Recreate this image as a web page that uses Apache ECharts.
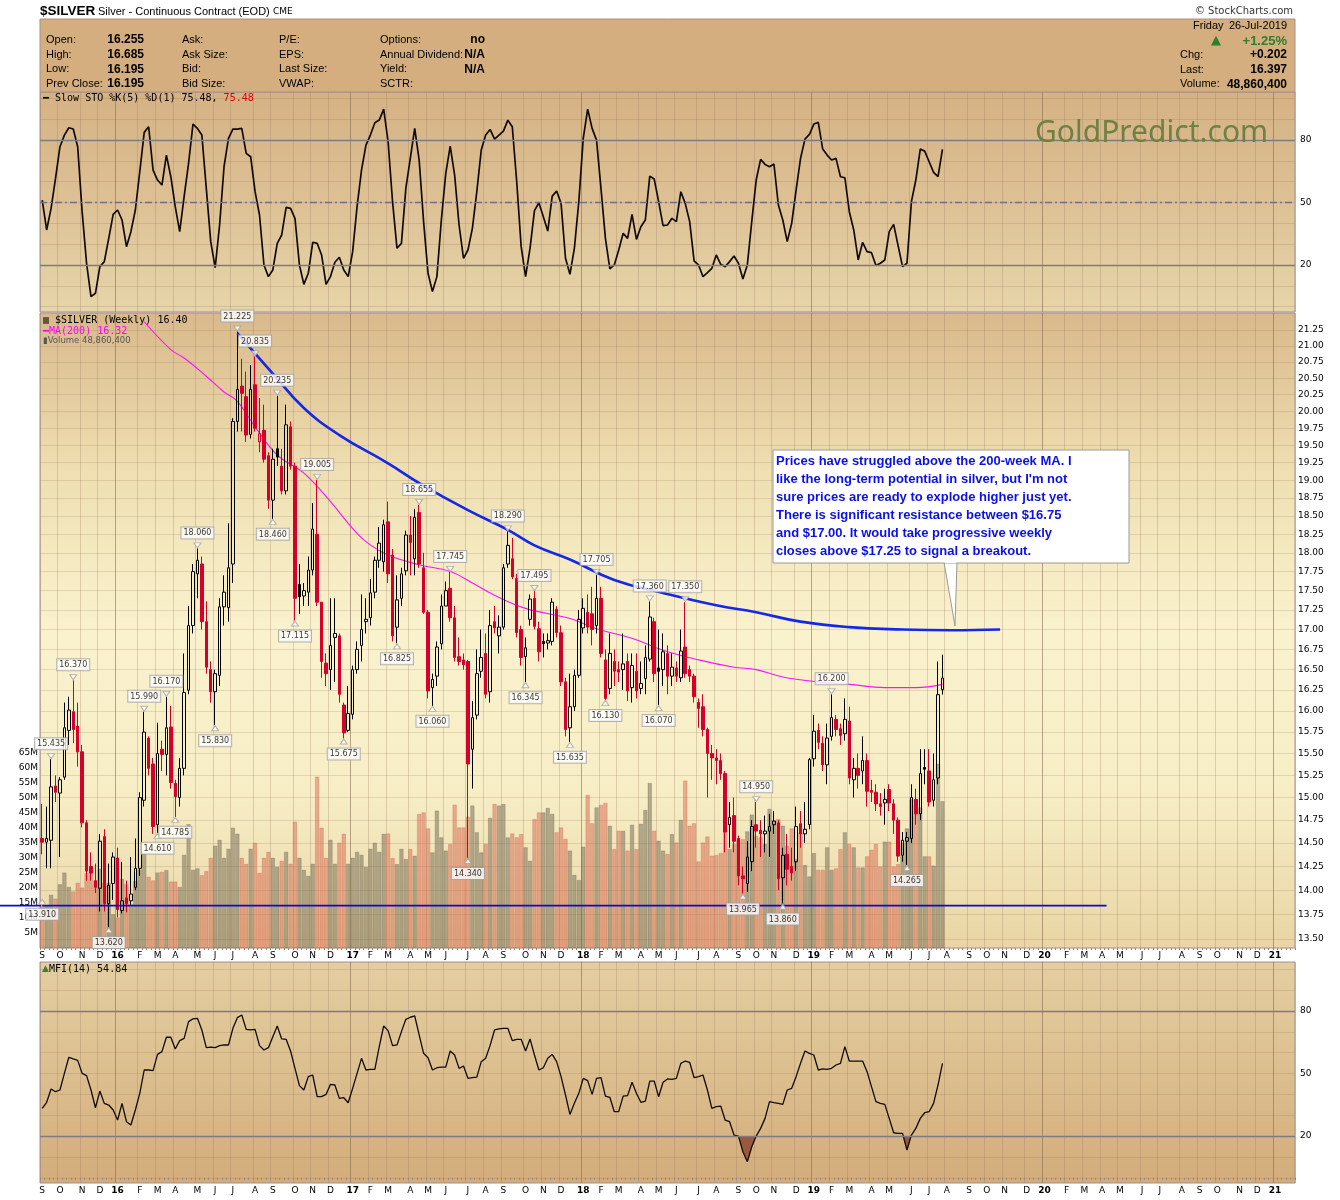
<!DOCTYPE html>
<html>
<head>
<meta charset="utf-8">
<script src="https://cdn.jsdelivr.net/npm/echarts@6/dist/echarts.min.js"></script>
<style>
html,body{margin:0;padding:0;background:#ffffff;}
#chart{width:1340px;height:1200px;}
</style>
</head>
<body>
<div id="chart"></div>
<script>
// ---------------- DATA ----------------
const firstWeek = '2015-09-04';     // first weekly bar (Friday)
const axisWeeks = 283;              // weekly slots on the time axis (to early 2021)
const priorClose = 14.60;           // close of the week before the first bar

const opens = [14.55,14.51,14.53,15.13,15.05,15.23,15.77,15.99,15.82,15.52,
 14.72,14.25,14.10,14.02,14.57,13.86,14.07,14.34,13.79,13.92,
 13.89,14.03,14.23,14.97,15.68,15.38,14.70,15.55,15.49,15.81,
 15.16,15.00,15.33,16.25,17.05,17.72,17.85,17.10,16.50,16.23,
 16.43,17.29,17.28,17.85,19.85,20.38,20.22,19.66,20.40,19.55,
 19.72,19.35,18.72,19.45,19.20,18.85,19.77,19.20,17.58,17.43,
 17.48,17.77,18.25,17.35,16.58,16.50,16.90,16.92,16.07,15.77,
 15.96,16.50,16.80,17.10,17.15,17.48,17.90,17.88,18.42,17.97,
 17.03,17.40,17.76,18.24,17.92,18.55,17.80,17.22,16.28,16.42,
 16.82,17.30,17.53,17.15,16.66,16.62,16.60,15.55,15.95,16.48,
 16.70,16.23,17.10,16.92,17.03,17.85,17.92,17.66,17.00,16.66,
 17.13,17.40,17.01,16.85,16.83,16.85,17.26,16.96,16.35,15.80,
 16.05,16.43,17.02,17.22,17.20,17.05,17.40,16.62,16.27,16.60,
 16.50,16.50,16.60,16.28,16.48,16.27,16.39,16.63,17.10,16.52,
 16.50,16.70,16.42,16.52,16.40,16.78,16.50,16.42,16.10,16.05,
 15.78,15.50,15.45,15.42,15.27,14.70,14.80,14.55,14.15,14.07,
 14.30,14.70,14.64,14.60,14.63,14.70,14.72,14.13,14.38,14.25,
 14.30,14.71,14.60,14.70,15.44,15.77,15.62,15.37,15.70,15.90,
 15.79,15.73,15.88,15.20,15.33,15.30,15.42,15.08,15.06,14.93,
 14.94,15.09,14.93,14.75,14.37,14.52,14.55,14.98,14.82,15.34,
 15.30,14.97,15.22,16.255];

const closes = [14.51,14.55,15.12,15.06,15.20,15.80,16.01,15.78,15.52,14.72,
 14.20,14.18,14.03,14.52,13.86,14.05,14.35,13.80,13.89,13.86,
 13.96,14.23,15.00,15.75,15.33,14.68,15.50,15.49,15.80,15.17,
 15.01,15.33,16.22,17.05,17.75,17.90,17.10,16.53,16.23,16.45,
 17.29,17.48,17.80,19.85,20.33,20.27,19.65,20.33,19.75,19.67,
 19.30,18.72,19.30,19.33,18.85,19.80,19.20,17.40,17.42,17.50,
 17.77,18.32,17.35,16.60,16.45,16.80,16.95,16.20,15.74,15.97,
 16.50,16.75,17.00,17.13,17.47,17.90,18.13,18.38,17.72,16.92,
 17.38,17.72,18.24,18.14,18.48,17.85,17.22,16.24,16.38,16.78,
 17.30,17.50,17.15,16.65,16.60,16.56,15.38,15.92,16.45,16.65,
 16.20,17.05,17.02,17.03,17.80,18.10,17.68,16.96,16.65,16.77,
 17.39,17.04,16.72,16.82,16.86,17.35,16.96,16.35,15.78,16.05,
 16.43,17.13,17.27,17.03,17.00,17.40,16.70,16.15,16.70,16.48,
 16.47,16.57,16.24,16.55,16.24,16.33,16.65,17.16,16.45,16.48,
 16.72,16.42,16.53,16.42,16.73,16.45,16.42,16.17,16.03,15.78,
 15.50,15.45,15.42,15.27,14.62,14.78,14.52,14.15,14.12,14.35,
 14.68,14.63,14.60,14.63,14.68,14.74,14.12,14.37,14.22,14.18,
 14.68,14.60,14.65,15.43,15.76,15.63,15.37,15.68,15.92,15.78,
 15.71,15.90,15.22,15.33,15.25,15.42,15.07,15.06,14.93,14.90,
 14.98,14.94,14.75,14.36,14.53,14.56,15.00,14.82,15.27,15.32,
 14.95,15.20,16.195,16.397];

const lows = [14.38,14.23,14.23,14.95,14.35,15.20,15.60,15.62,15.35,14.67,
 14.10,14.10,13.97,13.78,13.78,13.62,13.90,13.72,13.76,13.77,
 13.85,14.00,14.15,14.90,15.25,14.60,14.61,15.30,15.25,15.10,
 14.785,14.90,15.25,16.20,16.95,17.40,17.00,16.45,16.10,15.83,
 16.30,17.05,17.10,17.60,19.70,19.70,19.55,19.60,19.70,19.40,
 19.25,18.60,18.46,19.20,18.80,18.80,19.15,17.115,17.20,17.30,
 17.30,17.70,17.30,16.40,16.30,16.25,16.35,16.10,15.675,15.75,
 15.90,16.45,16.60,16.95,17.05,17.40,17.80,17.75,17.60,16.85,
 16.825,17.30,17.70,17.70,17.70,17.80,17.20,16.15,16.06,16.30,
 16.75,17.30,17.10,16.60,16.55,16.50,14.34,15.10,15.90,16.40,
 16.15,16.10,16.95,16.70,17.00,17.80,17.65,16.90,16.55,16.345,
 17.05,17.00,16.60,16.65,16.75,16.80,16.90,16.30,15.70,15.635,
 16.00,16.40,16.95,16.95,16.80,16.95,16.65,16.13,16.20,16.30,
 16.35,16.25,16.12,16.10,16.15,16.20,16.20,16.60,16.35,16.07,
 16.30,16.20,16.30,16.35,16.35,16.40,16.35,16.10,15.80,15.70,
 15.00,15.20,15.15,15.20,14.40,14.45,14.40,14.05,13.965,13.98,
 14.20,14.45,14.35,14.40,14.35,14.60,14.00,13.86,14.05,14.10,
 14.20,14.45,14.50,14.65,15.35,15.55,15.30,15.15,15.65,15.70,
 15.60,15.65,15.15,15.00,15.10,15.15,14.90,14.95,14.85,14.80,
 14.70,14.85,14.60,14.30,14.30,14.265,14.50,14.70,14.75,15.15,
 14.90,14.90,15.15,16.195];

const highs = [14.93,14.90,15.435,15.25,15.23,16.10,16.17,16.37,16.10,15.60,
 14.75,14.40,14.28,14.60,14.65,14.28,14.40,14.45,14.30,14.10,
 14.35,14.55,15.06,15.99,15.70,15.45,15.86,15.65,16.17,16.06,
 15.20,15.45,16.70,17.30,17.85,18.06,17.95,17.36,16.60,16.50,
 17.40,17.70,18.40,19.90,21.225,20.80,20.60,20.70,20.835,20.20,
 20.10,19.40,19.45,20.235,19.45,20.10,19.85,19.25,17.85,17.60,
 17.95,18.68,19.005,17.35,16.70,17.40,17.40,16.95,16.10,16.30,
 16.55,16.85,17.45,17.40,17.65,17.95,18.35,18.45,18.70,18.05,
 17.70,17.80,18.30,18.50,18.60,18.655,18.00,17.25,16.45,16.85,
 17.45,17.62,17.745,17.30,16.90,16.70,16.62,16.12,16.75,17.00,
 16.95,17.25,17.30,17.18,17.85,18.29,18.20,17.72,17.05,16.90,
 17.45,17.495,17.10,16.95,16.95,17.40,17.30,17.05,16.40,16.45,
 16.50,17.25,17.40,17.45,17.55,17.705,17.55,16.75,16.95,16.75,
 16.60,16.95,16.70,16.70,16.70,16.60,16.80,17.36,17.15,17.00,
 16.95,16.80,16.70,16.60,17.00,17.35,16.55,16.45,16.15,16.20,
 15.80,15.60,15.55,15.50,15.30,14.95,15.00,14.58,14.25,14.52,
 14.75,14.95,14.75,14.80,14.82,14.85,14.75,14.45,14.60,14.45,
 14.90,14.85,14.95,15.45,15.95,15.85,15.70,15.85,16.20,15.95,
 15.85,16.15,16.05,15.45,15.50,15.70,15.50,15.20,15.15,15.05,
 15.10,15.15,14.98,14.78,14.62,14.62,15.15,15.10,15.55,15.55,
 15.55,15.50,16.60,16.685];

// weekly volume, millions
const volumes = [15.7,14,17.7,16.4,21.2,25.1,20.3,18.8,21.7,20.1,
 24.9,26.5,22.3,26.4,21.7,21.7,11.2,10.1,22.9,21.2,
 14.5,22.3,26.2,31.5,23.7,22.5,25.1,25.3,25.9,22.1,
 22.1,20.3,31,41.2,26,26.5,24.2,25.6,30,34,
 36,30,33,40,38,30,28,33,35,25,
 30,32,30,27,29,32,28,42,30,26,
 24,28,57,40,30,36,28,35,38,28,
 30,32,31,27,33,35,32,38,38.1,29.9,
 27.9,33,29.6,32.9,30.7,44.6,45.1,39.8,31.8,45.7,
 36.8,32.4,34.6,47.7,40.1,40.1,43.7,47.4,38.5,31.8,
 34.6,43.3,47.9,47.4,47.9,36.8,38.1,36.8,37.9,33.5,
 29,42.9,45.1,45.1,46.6,44.6,38.5,40.1,36.3,32.4,
 24.3,22.6,33.7,50.9,41.5,46.8,47.6,48.3,40.7,32.9,
 39,39,32.4,41,32.9,41.3,45.9,54.9,39,35.7,
 32.4,31.3,37.9,35.1,42.6,55.7,40.7,41.5,28.8,35.1,
 37.1,30.7,30.9,31.6,39.6,32.9,34.6,35.9,36.2,38.8,
 44.4,37.3,36.8,34.6,46.3,42.4,42.9,40.7,34,39.8,
 29.6,38.5,27.6,23.8,31.6,26,26,33.5,26,26.5,
 32.9,38.5,34.6,33.5,26.8,26.8,30.5,32.7,34.6,27.1,
 35.4,35.4,27.1,27.9,35,39.8,49.4,45,46.8,30.5,
 30.5,27.4,61.3,48.86];

// Slow STO %K(5) %D(1)
const stoK = [51.2,36.8,47.2,61.6,76.8,82.4,85.9,85.3,76.8,45.6,
 20.8,4.8,6.4,19.2,21.6,32.8,44.3,46.4,41.6,28.8,
 36,46.4,64.8,83.7,86.4,65.6,60.8,58.4,72.8,62.4,
 48,36,52.8,68.8,87.7,85.6,82.4,56.8,31.2,18.7,
 39.2,67.2,80.8,85.3,85.3,85.6,73.6,72,55.2,44,
 20,14.4,17.6,30.4,34.4,47.7,47.2,42.4,20,10.7,
 16,30.9,30.4,24.8,10.7,14.4,21.3,23.7,17.6,14.4,
 26.4,48,65.6,77.6,82.4,88.3,89.6,94.9,79.2,50.4,
 28,30.4,56.8,71.2,85.6,70.4,40.8,16,7.2,14.4,
 41.6,64,77.1,63.2,39.2,23.2,27.2,37.6,55.2,75.2,
 82.4,85.1,80.5,82.4,84.3,89.6,86.4,60,28.8,14.4,
 28,46.1,49.9,43.2,36.3,53.1,55.5,49.6,23.2,15.5,
 28,50.4,80.8,94.9,85.6,80,56.8,32.8,18.1,20,
 27.2,35.2,32.8,44.3,32.3,38.4,41.6,62.7,61.3,50.4,
 38.9,39.2,42.4,40.8,55.2,49.6,40.8,21.9,20,14.4,
 16.3,18.4,24.8,20.3,19.2,21.6,24.3,20.8,13.3,20,
 40.8,60.8,70.7,68.3,67.2,68.5,48.8,41.6,31.2,40,
 56,71.2,80.5,82.7,87.7,88.5,75.7,72.8,70.4,71.2,
 62.4,61.9,45.6,36.8,22.4,30.9,26.4,25.9,19.7,20.8,
 22.4,36,39.5,29.3,19.2,20.8,50.4,60.8,75.7,74.7,
 69.6,64.5,62.4,75.48];

// MFI(14)
const mfi = [33.3,36.2,42.6,41.3,42.1,50.1,57.8,57,56.3,50.1,
 49,42.1,33.6,41.6,35.7,34.9,32.5,27.7,35.7,26.9,
 25.3,32.5,40.5,51.7,51.7,51.4,59.2,60.5,67.4,67.4,
 61.8,65.8,66.9,74.9,76.2,76.5,70.9,62.4,62.7,62.4,
 63.4,63.7,63.7,71.7,76.8,78.1,71.2,70.9,71.2,63.4,
 61.3,62.4,67.7,72.8,66.6,66.4,60.8,52.5,44.2,42.1,
 48.5,49.3,38.9,38.9,40,44.8,44.5,38.1,38.4,36,
 42.9,50.1,57.3,51.7,52,52,62.9,72.8,70.6,63.4,
 63.7,70.1,76,77,77.6,68.5,59.7,57.6,51.7,52.8,
 53.1,53.1,60.8,58.9,52.5,53.6,47.7,48,48.3,55.7,
 57.3,63.5,70.9,71.4,71.7,71.7,65.8,66.4,66.4,60.8,
 66.6,58.9,51.7,52.8,57.3,59.2,55.7,48.5,39.7,30.4,
 35.7,40.5,47.7,46.6,40,47.7,48,39.2,38.6,31.7,
 31.7,39.2,39.4,45.8,40.5,36.2,36.8,46.4,46.4,38.9,
 45.8,47.4,47.2,47.7,54.9,56,55.4,48,48.5,49.3,
 42.1,33.3,34.1,34.4,27.7,26.9,20.5,20,12.5,7.7,
 14.9,20,23.7,28.5,36.5,36,35.7,35.2,42.1,42.9,
 48.5,54.9,60.8,59.7,58.9,51.7,52.2,52,52.5,54.1,
 54.9,62.9,56,56,56,56,50.9,43.7,36.5,35.7,
 35.2,28.5,21.6,21.3,21.3,13.3,20.5,23.7,28.5,31.2,
 31.7,35.7,44.5,54.84];

const mfiOversold = 20;

// 200-week moving average: [week index, price]
const ma200 = [[23,21.38],[29,20.94],[32,20.81],[37,20.53],[41,20.29],[44,20.15],[48,19.77],
 [53,19.36],[59,19.10],[65,18.70],[69,18.40],[73,18.15],[78,17.97],[85,17.84],[92,17.75],
 [97,17.60],[102,17.44],[109,17.27],[119,17.14],[125,17.01],[133,16.89],[140,16.74],
 [148,16.62],[156,16.53],[161,16.50],[167,16.41],[175,16.35],[182,16.32],[190,16.28],
 [197,16.28],[203,16.32]];

// hand-drawn resistance arc: [week index, price]
const resistanceArc = [[44,21.2],[52,20.57],[59,20.05],[67,19.65],[78,19.24],[85,18.96],
 [96,18.58],[105,18.31],[111,18.10],[119,17.91],[129,17.64],[140,17.47],[152,17.31],
 [161,17.22],[171,17.10],[182,17.03],[194,17.0],[205,16.99],[216,17.0]];

// hand-drawn support line: [week index, price]
const supportLine = [[0,13.84],[240,13.84]];

// bars with a price tag on the high / on the low
const highTagIdx = [2,7,23,28,35,44,48,53,62,85,92,105,111,125,137,145,161,178];
const lowTagIdx = [15,26,30,39,52,57,68,80,88,96,109,119,127,139,158,167,195];
const edgeTags = [[0,13.91]];

// axis ticks
const priceTicks = [13.50,13.75,14.00,14.25,14.50,14.75,15.00,15.25,15.50,15.75,16.00,16.25,
 16.50,16.75,17.00,17.25,17.50,17.75,18.00,18.25,18.50,18.75,19.00,19.25,19.50,19.75,
 20.00,20.25,20.50,20.75,21.00,21.25];
const volumeTicks = [5,10,15,20,25,30,35,40,45,50,55,60,65];
const oscLabelTicks = [20,50,80];
const oscGridTicks = [0,10,20,30,40,50,60,70,80,90,100];
const monthLetters = ['J','F','M','A','M','J','J','A','S','O','N','D'];

const annotationLines = [
 'Prices have struggled above the 200-week MA. I',
 "like the long-term potential in silver, but I'm not",
 'sure prices are ready to explode higher just yet.',
 'There is significant resistance between $16.75',
 'and $17.00. It would take progressive weekly',
 'closes above $17.25 to signal a breakout.'
];

// ---------------- BUILD ----------------
const LN = Math.log;
const weekDates = [];
(function(){
  const p = firstWeek.split('-').map(Number);
  const t0 = Date.UTC(p[0], p[1]-1, p[2]);
  for (let k = 0; k < axisWeeks; k++) {
    weekDates.push(new Date(t0 + k*7*86400000).toISOString().slice(0,10));
  }
})();
const isMonthStart = (idx) => Number(weekDates[idx].slice(8,10)) <= 7;
const monthLabel = (val) => {
  const m = Number(val.slice(5,7)) - 1;
  if (m === 0) return '{yr|' + val.slice(2,4) + '}';
  return monthLetters[m];
};

const RED = '#d4002b', BLACK = '#000000';
const isUpWeek = (i) => closes[i] >= (i > 0 ? closes[i-1] : priorClose);

const candleData = opens.map((o, i) => {
  const col = isUpWeek(i) ? BLACK : RED;
  const fill = closes[i] < o ? col : 'rgba(0,0,0,0)';
  return {
    value: [LN(o), LN(closes[i]), LN(lows[i]), LN(highs[i])],
    itemStyle: {color: fill, color0: fill, borderColor: col, borderColor0: col, borderColorDoji: col}
  };
});
const volumeData = volumes.map((v, i) => ({
  value: v,
  itemStyle: isUpWeek(i)
    ? {color: 'rgba(112,104,84,0.50)', borderColor: 'rgba(95,88,70,0.45)'}
    : {color: 'rgba(214,92,72,0.45)', borderColor: 'rgba(190,80,62,0.45)'}
}));
const mfiBase = mfi.map(v => Math.min(v, mfiOversold));
const mfiGap = mfi.map(v => mfiOversold - Math.min(v, mfiOversold));

const tagLabel = {
  show: true, fontSize: 8, fontFamily: 'DejaVu Sans', color: '#000',
  backgroundColor: '#ffffff', borderColor: '#a3a3a3', borderWidth: 1,
  padding: [2, 2, 1, 2], formatter: p => p.data.raw.toFixed(3)
};
const highTags = highTagIdx.map(i => ({value: [i, LN(highs[i])], raw: highs[i]}));
const lowTags = lowTagIdx.map(i => ({value: [i, LN(lows[i])], raw: lows[i]}));
const edgeTagData = edgeTags.map(t => ({value: [t[0], LN(t[1])], raw: t[1]}));

// month split line colours: year boundary darker (first split line is September)
const faint = 'rgba(150,118,92,0.28)', dark = 'rgba(130,100,80,0.55)';
const splitColors = [faint,faint,faint,faint,dark,faint,faint,faint,faint,faint,faint,faint];

function xAxisFor(g, showLabels) {
  return {
    gridIndex: g, type: 'category', data: weekDates, boundaryGap: true,
    axisLine: {show: false},
    axisTick: {show: showLabels, interval: 0, length: 2, lineStyle: {color: '#8a8a8a'}},
    axisLabel: {
      show: showLabels, interval: (idx) => isMonthStart(idx), formatter: monthLabel,
      fontSize: 9, fontFamily: 'DejaVu Sans', color: '#000', margin: 3,
      rich: {yr: {fontWeight: 'bold', fontSize: 9, fontFamily: 'DejaVu Sans', color: '#000'}}
    },
    splitLine: {show: true, interval: (idx) => isMonthStart(idx), lineStyle: {color: splitColors, width: 1}}
  };
}

const LG = (stops) => new echarts.graphic.LinearGradient(0, 0, 0, 1, stops.map((c, k) => ({offset: k/(stops.length-1), color: c})));
const gridBorder = '#a68e8e';

const oscAxis = (g, mn, mx) => ({
  gridIndex: g, type: 'value', position: 'right', min: mn, max: mx,
  axisLine: {show: false},
  axisTick: {show: false, customValues: oscGridTicks},
  axisLabel: {customValues: oscLabelTicks, fontSize: 9, fontFamily: 'DejaVu Sans', color: '#000', margin: 5},
  splitLine: {show: true, lineStyle: {color: 'rgba(150,118,92,0.25)', width: 1}}
});

const refLine = (vals, dashed) => ({
  symbol: ['none','none'], silent: true, label: {show: false},
  lineStyle: {color: '#7b7b84', width: 1.3, type: 'solid'},
  data: vals.map(v => ({yAxis: v, lineStyle: dashed && v === 50 ? {type: [7,3,2,3], color: '#6c7282'} : {type: 'solid'}}))
});

const T = (x, y, text, font, extra) => ({type: 'text', x: x, y: y, z: 40,
  style: Object.assign({text: text, font: font, fill: '#000', verticalAlign: 'middle'}, extra || {})});
const F11 = '11px "Liberation Sans", sans-serif';
const B12 = 'bold 12px "Liberation Sans", sans-serif';
const rowTop = 32.7, rowH = 14.6;

const option = {
  animation: false,
  backgroundColor: '#ffffff',
  textStyle: {fontFamily: 'DejaVu Sans'},
  grid: [
    {left: 40, right: 45, top: 92, height: 220, show: true, borderColor: gridBorder, borderWidth: 1,
     backgroundColor: LG(['#d5b284', '#ddc195', '#e7d5aa'])},
    {left: 40, right: 45, top: 313, height: 635, show: true, borderColor: gridBorder, borderWidth: 1,
     backgroundColor: LG(['#d9b98b', '#efdfb2', '#faf2cd', '#f7eec6', '#e9d5a4'])},
    {left: 40, right: 45, top: 962, height: 221, show: true, borderColor: gridBorder, borderWidth: 1,
     backgroundColor: LG(['#e4cea1', '#dcbf8f', '#d3ac7b'])}
  ],
  xAxis: [xAxisFor(0, false), xAxisFor(1, true), xAxisFor(2, true)],
  yAxis: [
    oscAxis(0, -2.6, 103.1),
    {
      gridIndex: 1, type: 'value', position: 'right', min: LN(13.41), max: LN(21.52),
      axisLine: {show: false},
      axisTick: {show: false, customValues: priceTicks.map(LN)},
      axisLabel: {customValues: priceTicks.map(LN), formatter: v => Math.exp(v).toFixed(2),
        fontSize: 9, fontFamily: 'DejaVu Sans', color: '#000', margin: 3},
      splitLine: {show: true, lineStyle: {color: 'rgba(150,118,92,0.22)', width: 1}}
    },
    {
      gridIndex: 1, type: 'value', position: 'left', min: 0, max: 211.3,
      axisLine: {show: false},
      axisTick: {show: false, customValues: volumeTicks},
      axisLabel: {customValues: volumeTicks, formatter: v => v + 'M',
        fontSize: 9, fontFamily: 'DejaVu Sans', color: '#000', margin: 2},
      splitLine: {show: false}
    },
    oscAxis(2, -2.5, 103.5)
  ],
  series: [
    {type: 'bar', name: 'Volume', xAxisIndex: 1, yAxisIndex: 2, data: volumeData,
     barCategoryGap: '8%', itemStyle: {borderWidth: 0.6}, z: 1, silent: true},
    {type: 'line', name: 'MA(200)', xAxisIndex: 1, yAxisIndex: 1,
     data: ma200.map(p => [p[0], LN(p[1])]), smooth: 0.4, symbol: 'none',
     lineStyle: {color: '#ff10ff', width: 1.1}, z: 3},
    {type: 'candlestick', name: '$SILVER', xAxisIndex: 1, yAxisIndex: 1, data: candleData,
     barWidth: 3, itemStyle: {borderWidth: 1}, z: 4},
    {type: 'line', name: 'Resistance', xAxisIndex: 1, yAxisIndex: 1,
     data: resistanceArc.map(p => [p[0], LN(p[1])]), smooth: 0.45, symbol: 'none',
     lineStyle: {color: '#1428e6', width: 2.6}, z: 5},
    {type: 'line', name: 'Support', xAxisIndex: 1, yAxisIndex: 1,
     data: supportLine.map(p => [p[0], LN(p[1])]), symbol: 'none',
     lineStyle: {color: '#0a0ad8', width: 1.6}, z: 5},
    {type: 'scatter', name: 'highTags', xAxisIndex: 1, yAxisIndex: 1, data: highTags,
     symbol: 'triangle', symbolRotate: 180, symbolSize: [7, 5], symbolOffset: [0, -3],
     itemStyle: {color: '#ffffff', borderColor: '#a3a3a3', borderWidth: 1},
     label: Object.assign({position: 'top', distance: 4}, tagLabel), z: 6},
    {type: 'scatter', name: 'lowTags', xAxisIndex: 1, yAxisIndex: 1, data: lowTags.concat(edgeTagData),
     symbol: 'triangle', symbolSize: [7, 5], symbolOffset: [0, 3],
     itemStyle: {color: '#ffffff', borderColor: '#a3a3a3', borderWidth: 1},
     label: Object.assign({position: 'bottom', distance: 4}, tagLabel), z: 6},
    {type: 'line', name: 'Slow STO', xAxisIndex: 0, yAxisIndex: 0, data: stoK, symbol: 'none',
     lineStyle: {color: '#140a05', width: 1.7}, z: 4,
     markLine: refLine([80, 50, 20], true)},
    {type: 'line', name: 'mfiBase', xAxisIndex: 2, yAxisIndex: 3, data: mfiBase, stack: 'mfiFill',
     symbol: 'none', lineStyle: {opacity: 0, width: 0}, z: 2, silent: true},
    {type: 'line', name: 'mfiGap', xAxisIndex: 2, yAxisIndex: 3, data: mfiGap, stack: 'mfiFill',
     symbol: 'none', lineStyle: {opacity: 0, width: 0},
     areaStyle: {color: '#9b5840', opacity: 1}, z: 2, silent: true},
    {type: 'line', name: 'MFI(14)', xAxisIndex: 2, yAxisIndex: 3, data: mfi, symbol: 'none',
     lineStyle: {color: '#140a05', width: 1.3}, z: 4,
     markLine: refLine([80, 20], false)}
  ],
  graphic: [
    // header box
    {type: 'rect', z: 1, shape: {x: 40, y: 19, width: 1255, height: 73}, style: {fill: '#d4ae7e', stroke: gridBorder, lineWidth: 1}},
    T(40, 11, '$SILVER', 'bold 13.5px "Liberation Sans", sans-serif'),
    T(98, 12, 'Silver - Continuous Contract (EOD)', '11px "Liberation Sans", sans-serif'),
    T(273, 12, 'CME', '9px "DejaVu Sans", sans-serif'),
    T(1293, 11, '© StockCharts.com', '10px "DejaVu Sans", sans-serif', {fill: '#333', align: 'right'}),
    T(46, rowTop, 'Open:\nHigh:\nLow:\nPrev Close:', F11, {lineHeight: rowH, verticalAlign: 'top'}),
    T(144, rowTop, '16.255\n16.685\n16.195\n16.195', B12, {lineHeight: rowH, verticalAlign: 'top', align: 'right'}),
    T(182, rowTop, 'Ask:\nAsk Size:\nBid:\nBid Size:', F11, {lineHeight: rowH, verticalAlign: 'top'}),
    T(279, rowTop, 'P/E:\nEPS:\nLast Size:\nVWAP:', F11, {lineHeight: rowH, verticalAlign: 'top'}),
    T(380, rowTop, 'Options:\nAnnual Dividend:\nYield:\nSCTR:', F11, {lineHeight: rowH, verticalAlign: 'top'}),
    T(485, rowTop, 'no\nN/A\nN/A', B12, {lineHeight: rowH, verticalAlign: 'top', align: 'right'}),
    T(1193, 26, 'Friday', F11),
    T(1287, 26, '26-Jul-2019', F11, {align: 'right'}),
    T(1211, 41, '▲', '13px "DejaVu Sans", sans-serif', {fill: '#2f7d2f'}),
    T(1287, 41, '+1.25%', 'bold 13px "Liberation Sans", sans-serif', {fill: '#2f7d2f', align: 'right'}),
    T(1180, 55 - rowH/2, 'Chg:\nLast:\nVolume:', F11, {lineHeight: rowH, verticalAlign: 'top'}),
    T(1287, 55 - rowH/2, '+0.202\n16.397\n48,860,400', B12, {lineHeight: rowH, verticalAlign: 'top', align: 'right'}),
    // panel legends
    T(43, 98, '{d|━} Slow STO %K(5) %D(1) 75.48, {r|75.48}', '10px "DejaVu Sans Mono", monospace',
      {rich: {d: {font: 'bold 10px "DejaVu Sans Mono", monospace', fill: '#000'}, r: {font: '10px "DejaVu Sans Mono", monospace', fill: '#e00000'}}}),
    T(43, 320, '▥ $SILVER (Weekly) 16.40', '10px "DejaVu Sans Mono", monospace'),
    T(43, 331, '━MA(200) 16.32', '10px "DejaVu Sans Mono", monospace', {fill: '#ff00ff'}),
    T(43, 341, '▮Volume 48,860,400', '8.5px "DejaVu Sans", sans-serif', {fill: '#555'}),
    T(42, 969, '{i|▲}MFI(14) 54.84', '10px "DejaVu Sans Mono", monospace',
      {rich: {i: {font: '9px "DejaVu Sans", sans-serif', fill: '#4e7a34'}}}),
    // watermark
    T(1035, 133, 'GoldPredict.com', '30px "Noto Sans", "Open Sans", sans-serif', {fill: '#6f8140'}),
    // annotation
    {type: 'polygon', z: 30, shape: {points: [[944, 562], [955, 626], [957, 562]]}, style: {fill: '#ffffff', stroke: '#9a9a9a', lineWidth: 1}},
    {type: 'rect', z: 31, shape: {x: 773, y: 450, width: 356, height: 113}, style: {fill: '#ffffff', stroke: '#9a9a9a', lineWidth: 1}},
    {type: 'rect', z: 32, shape: {x: 945, y: 560, width: 11, height: 3}, style: {fill: '#ffffff'}},
    {type: 'text', x: 776, y: 452, z: 33, style: {text: annotationLines.join('\n'), font: 'bold 13px "Liberation Sans", sans-serif', fill: '#0a10e8', lineHeight: 18}}
  ]
};

const chart = echarts.init(document.getElementById('chart'), null, {renderer: 'canvas', width: 1340, height: 1200});
chart.setOption(option);

// extend the support line to the page edge, at the y the price scale gives it
const sY = chart.convertToPixel({xAxisIndex: 1, yAxisIndex: 1}, [supportLine[0][0], LN(supportLine[0][1])])[1];
chart.setOption({graphic: option.graphic.concat([
  {type: 'line', z: 5, shape: {x1: 0, y1: sY, x2: 41, y2: sY}, style: {stroke: '#0a0ad8', lineWidth: 1.6}}
])});
</script>
</body>
</html>
